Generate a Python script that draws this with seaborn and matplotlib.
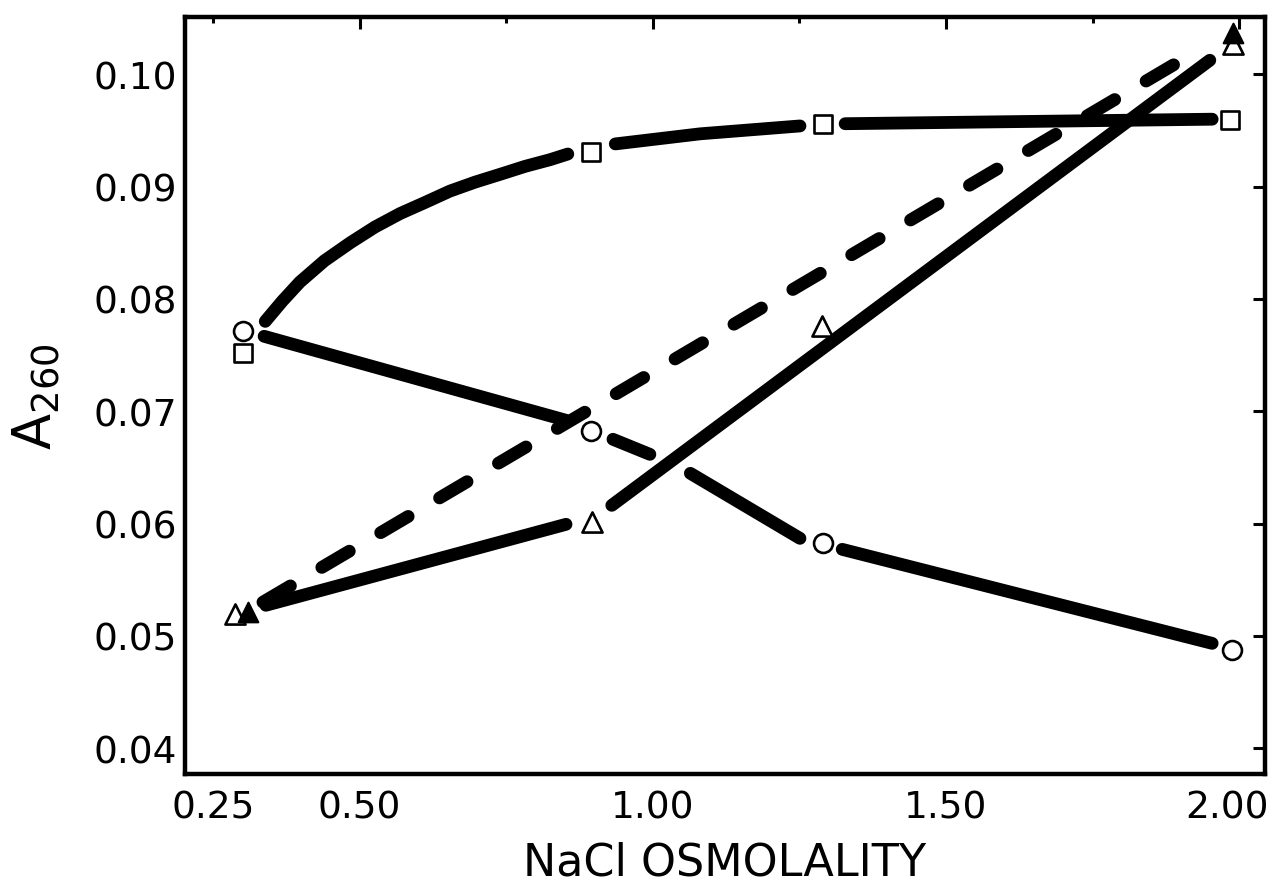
import numpy as np
import pandas as pd
import matplotlib
matplotlib.use('Agg')
import matplotlib.pyplot as plt
import matplotlib.transforms as mtransforms
import seaborn as sns

circle_x = [0.301, 0.895, 1.290, 1.988]
circle_y = [0.0771, 0.0682, 0.0583, 0.0487]
square_x = [0.301, 0.895, 1.290, 1.985]
square_y = [0.0752, 0.0931, 0.0956, 0.0959]
open_tri_x = [0.288, 0.896, 1.289, 1.990]
open_tri_y = [0.0519, 0.0601, 0.0776, 0.1027]
filled_tri_x = [0.310, 1.990]
filled_tri_y = [0.0521, 0.1037]

# hand drawn curves, broken into segments where the drawing has gaps
circle_fit_x = [0.337, 0.852, 0.932, 0.995, 1.064, 1.251, 1.323, 1.954]
circle_fit_y = [0.07667, 0.06919, 0.06750, 0.06616, 0.06447, 0.05868, 0.05770, 0.04933]
circle_fit_seg = [0, 0, 1, 1, 2, 2, 3, 3]

square_fit_x = [0.339, 0.368, 0.398, 0.440, 0.484, 0.526, 0.569, 0.612, 0.654, 0.697, 0.740,
                0.782, 0.825, 0.855, 0.936, 1.081, 1.251, 1.328, 1.954]
square_fit_y = [0.0780, 0.0798, 0.0815, 0.0834, 0.0850, 0.0864, 0.0876, 0.0886, 0.0896, 0.0904, 0.0911,
                0.0918, 0.0924, 0.0929, 0.0938, 0.0947, 0.0954, 0.0956, 0.0960]
square_fit_seg = [0] * 14 + [1, 1, 1, 2, 2]

tri_fit_x = [0.340, 0.852, 0.930, 1.950]
tri_fit_y = [0.05272, 0.05993, 0.06162, 0.10125]
tri_fit_seg = [0, 0, 1, 1]

dash_x = [0.335, 1.916]
dash_y = [0.0530, 0.1017]

x_major = [0.5, 1.0, 1.5, 2.0]
x_major_labels = ['0.50', '1.00', '1.50', '2.00']
x_minor = [0.25, 0.75, 1.25, 1.75]
x_minor_labels = ['0.25', '', '', '']
y_ticks = [0.04, 0.05, 0.06, 0.07, 0.08, 0.09, 0.10]
y_tick_labels = ['0.04', '0.05', '0.06', '0.07', '0.08', '0.09', '0.10']

sns.set_style('white')
plt.rcParams['font.family'] = ['DejaVu Sans']
plt.rcParams['mathtext.fontset'] = 'dejavusans'
plt.rcParams['text.color'] = 'black'
plt.rcParams['axes.labelcolor'] = 'black'

fig = plt.figure(figsize=(12.79, 8.87), dpi=100)
ax = fig.add_axes([0.1446, 0.1263, 0.8444, 0.8534])

lw = 9.2


def fitted(xs, ys, seg):
    df = pd.DataFrame({'x': xs, 'y': ys, 'seg': seg})
    sns.lineplot(data=df, x='x', y='y', units='seg', estimator=None, sort=False,
                 color='black', lw=lw, solid_capstyle='round', solid_joinstyle='round',
                 ax=ax, legend=False)


fitted(circle_fit_x, circle_fit_y, circle_fit_seg)
fitted(square_fit_x, square_fit_y, square_fit_seg)
fitted(tri_fit_x, tri_fit_y, tri_fit_seg)
sns.lineplot(x=dash_x, y=dash_y, color='black', lw=lw, linestyle=(0, (2.5, 2.85)),
             dash_capstyle='round', sort=False, ax=ax)

sns.scatterplot(x=circle_x, y=circle_y, marker='o', s=185, color='white',
                edgecolor='black', linewidth=1.9, zorder=5, ax=ax)
sns.scatterplot(x=square_x, y=square_y, marker='s', s=175, color='white',
                edgecolor='black', linewidth=1.9, zorder=5, ax=ax)
sns.scatterplot(x=open_tri_x, y=open_tri_y, marker='^', s=210, color='white',
                edgecolor='black', linewidth=1.9, zorder=5, ax=ax)
sns.scatterplot(x=filled_tri_x, y=filled_tri_y, marker='^', s=200, color='black',
                edgecolor='black', linewidth=1.5, zorder=6, ax=ax)

ax.set_xlim(0.202, 2.044)
ax.set_ylim(0.0377, 0.1051)
ax.set_xticks(x_major, labels=x_major_labels)
ax.set_xticks(x_minor, labels=x_minor_labels, minor=True)
ax.set_yticks(y_ticks, labels=y_tick_labels)

ax.tick_params(which='both', direction='in', top=True, right=True, width=2.2,
               colors='black', labelsize=27)
ax.tick_params(which='major', length=8.6)
ax.tick_params(which='minor', length=4.3)
ax.tick_params(axis='x', which='both', pad=11)
ax.tick_params(axis='y', which='both', pad=5.5)
for sp in ax.spines.values():
    sp.set_linewidth(3.2)
    sp.set_color('black')

# last x label sits a little left of its tick, as in the original
last = ax.get_xticklabels()[-1]
last.set_transform(last.get_transform() + mtransforms.ScaledTranslation(-0.12, 0, fig.dpi_scale_trans))

ax.set_xlabel('NaCl OSMOLALITY', fontsize=32, labelpad=11, color='black')
ax.set_ylabel(r'$\mathregular{A_{260}}$', fontsize=38, labelpad=22, color='black')

fig.savefig('out.png', dpi=100, facecolor='white')
